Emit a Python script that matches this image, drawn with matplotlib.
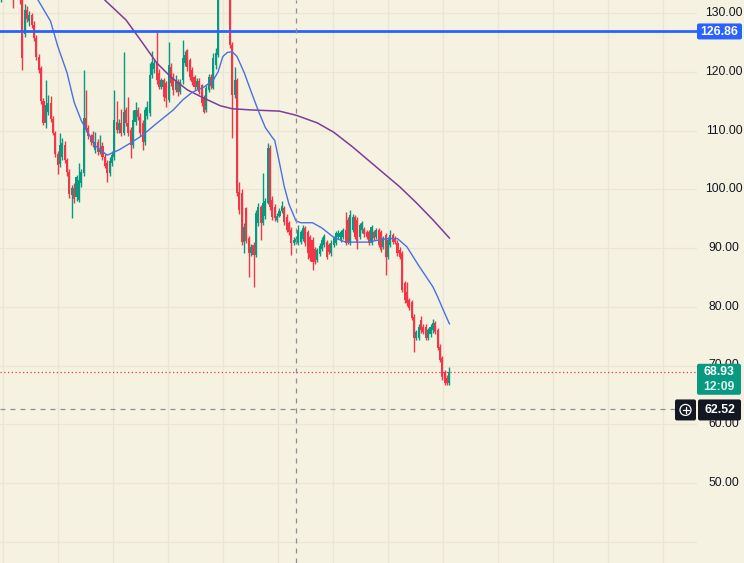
import matplotlib
matplotlib.use('Agg')
import matplotlib.pyplot as plt
import matplotlib.patches as mpatches
import numpy as np

# ---- data ----
opens = [
    133.0, 135.0, 133.8, 135.2, 133.4, 134.2, 132.8, 134.6, 133.2, 132.4,
    126.5, 130.5, 128.6, 129.6, 128.0, 125.7, 122.5, 120.6, 115.0, 111.3,
    113.1, 114.7, 112.0, 109.6, 106.0, 104.3, 105.5, 107.5, 105.0, 103.0,
    99.0, 100.2, 98.7, 98.2, 101.0, 102.8, 112.1, 110.4, 109.0, 109.2,
    106.7, 108.0, 106.3, 107.4, 105.5, 104.5, 102.8, 104.4, 105.5, 111.4,
    110.1, 111.3, 109.6, 113.5, 111.3, 110.1, 107.5, 111.4, 113.5, 112.3,
    111.3, 108.0, 112.5, 113.0, 119.4, 120.5, 121.7, 119.8, 117.4, 118.6,
    118.0, 115.2, 120.8, 119.1, 116.9, 118.1, 116.6, 118.6, 121.5, 123.7,
    122.0, 120.3, 119.1, 117.4, 118.5, 117.7, 115.7, 113.5, 116.9, 119.1,
    117.2, 121.1, 122.9, 133.5, 137.0, 134.0, 136.5, 135.0, 124.6, 116.0,
    118.6, 99.5, 99.4, 91.0, 96.8, 91.7, 89.1, 90.5, 88.8, 94.3,
    97.0, 94.3, 95.5, 97.7, 107.0, 98.2, 97.0, 94.8, 95.5, 96.3,
    96.8, 95.3, 94.3, 93.1, 90.9, 91.0, 90.9, 91.0, 91.5, 93.4,
    92.7, 91.9, 91.4, 89.8, 88.0, 89.0, 89.9, 90.5, 91.0, 90.5,
    89.1, 90.5, 90.9, 91.9, 91.4, 91.9, 93.0, 94.8, 90.9, 93.1,
    95.3, 94.8, 91.9, 93.0, 93.2, 92.7, 92.7, 90.9, 92.7, 91.9,
    93.0, 92.7, 90.1, 92.2, 88.5, 90.5, 92.2, 91.7, 90.9, 89.7,
    89.1, 84.0, 82.5, 81.1, 80.8, 78.3, 74.7, 74.7, 77.7, 76.6,
    76.6, 74.7, 75.3, 76.0, 77.2, 76.0, 73.2, 71.3, 68.9, 67.9,
    67.0,
]
highs = [
    136.0, 136.5, 135.8, 135.8, 134.8, 135.0, 135.2, 135.4, 134.0, 133.0,
    131.5, 131.2, 130.4, 130.0, 128.6, 126.2, 123.0, 121.0, 115.5, 118.6,
    116.0, 115.8, 112.4, 110.0, 106.5, 109.6, 108.8, 108.2, 105.4, 103.4,
    100.8, 101.0, 102.5, 104.5, 103.4, 120.3, 116.9, 111.0, 109.4, 110.0,
    109.7, 108.6, 109.2, 108.0, 106.0, 105.0, 105.5, 106.5, 116.9, 115.1,
    112.0, 113.7, 123.4, 114.0, 115.7, 110.6, 113.5, 114.9, 114.0, 113.0,
    111.8, 114.0, 115.0, 121.5, 123.5, 122.0, 127.1, 120.5, 119.0, 119.0,
    118.5, 125.0, 121.5, 119.8, 119.5, 118.8, 118.8, 125.4, 123.5, 123.9,
    122.4, 120.8, 119.5, 119.0, 119.0, 118.0, 116.0, 117.8, 119.6, 119.6,
    123.2, 124.0, 136.0, 138.0, 138.5, 137.5, 137.0, 136.0, 125.0, 120.8,
    119.0, 101.2, 100.0, 94.2, 97.0, 92.0, 90.6, 91.0, 96.5, 97.6,
    97.4, 102.8, 98.5, 107.9, 107.5, 98.8, 97.5, 96.0, 96.8, 98.0,
    97.2, 95.8, 94.6, 93.5, 91.8, 92.0, 94.0, 93.1, 94.0, 93.8,
    93.0, 92.2, 91.8, 90.2, 90.0, 90.8, 91.8, 92.4, 91.4, 90.9,
    91.3, 92.1, 92.9, 93.0, 93.1, 93.4, 96.1, 95.3, 96.4, 95.8,
    95.7, 95.2, 94.3, 94.6, 93.6, 93.1, 93.1, 94.0, 93.1, 93.4,
    93.4, 93.1, 92.1, 92.6, 91.8, 93.0, 92.6, 92.1, 91.3, 90.1,
    89.5, 84.4, 84.2, 81.5, 81.2, 78.7, 76.1, 77.0, 78.5, 77.0,
    77.0, 76.4, 77.0, 78.0, 77.6, 76.4, 73.6, 71.7, 69.3, 68.3,
    69.7,
]
lows = [
    131.8, 133.2, 133.0, 132.6, 132.8, 130.8, 132.4, 132.6, 131.6, 120.3,
    126.0, 128.4, 127.8, 127.5, 125.2, 122.0, 119.8, 114.5, 110.9, 110.5,
    112.6, 111.5, 109.2, 105.5, 102.6, 103.8, 105.0, 104.5, 102.3, 98.5,
    95.1, 97.6, 98.0, 97.8, 100.4, 102.3, 109.8, 108.6, 107.5, 107.2,
    106.2, 105.8, 106.0, 105.0, 103.6, 101.2, 102.3, 104.0, 105.0, 109.5,
    109.6, 109.0, 109.2, 110.8, 109.0, 105.3, 107.0, 111.0, 111.8, 109.0,
    106.6, 107.5, 112.0, 112.5, 119.0, 119.8, 118.0, 117.0, 117.0, 115.0,
    114.0, 114.8, 117.5, 116.0, 116.5, 115.8, 116.2, 118.0, 121.0, 120.2,
    118.6, 117.8, 116.9, 117.0, 116.2, 114.2, 113.0, 113.2, 116.5, 117.0,
    117.0, 120.5, 122.5, 132.5, 133.0, 133.5, 133.8, 124.0, 108.7, 115.5,
    98.8, 95.8, 90.5, 89.1, 90.8, 85.1, 88.6, 83.4, 88.5, 93.8,
    91.4, 94.0, 95.0, 97.5, 96.5, 94.8, 94.6, 94.5, 95.2, 96.0,
    94.0, 92.8, 92.2, 88.8, 90.5, 90.6, 90.5, 90.6, 91.2, 90.4,
    88.2, 87.8, 86.3, 87.2, 87.6, 88.6, 89.5, 90.2, 88.1, 88.9,
    88.7, 90.1, 90.5, 91.5, 91.0, 91.5, 90.5, 90.6, 90.5, 92.8,
    91.5, 89.9, 91.5, 92.6, 91.9, 91.5, 90.5, 90.5, 91.3, 91.5,
    90.1, 89.3, 89.8, 85.4, 88.1, 90.1, 90.6, 90.6, 88.7, 88.1,
    82.5, 80.7, 80.2, 79.4, 77.7, 72.3, 74.3, 74.3, 75.6, 75.3,
    74.3, 74.3, 74.9, 75.6, 75.3, 72.6, 70.6, 67.6, 66.6, 66.6,
    66.6,
]
closes = [
    135.0, 133.8, 135.2, 133.4, 134.2, 132.8, 134.6, 133.2, 132.4, 122.3,
    130.5, 129.0, 129.6, 128.0, 125.7, 122.5, 120.3, 115.0, 111.3, 114.4,
    114.7, 112.0, 109.6, 106.0, 104.1, 107.5, 107.9, 105.0, 103.0, 99.2,
    100.2, 98.4, 102.1, 101.6, 102.9, 112.1, 110.1, 109.0, 108.0, 107.9,
    108.0, 106.3, 106.9, 105.5, 104.0, 102.8, 104.8, 105.8, 111.8, 110.1,
    111.3, 109.6, 113.2, 111.3, 109.6, 107.5, 111.8, 113.5, 112.3, 109.6,
    108.0, 113.5, 114.0, 119.5, 121.7, 121.5, 118.6, 117.4, 118.6, 115.7,
    115.5, 121.2, 118.1, 116.9, 118.6, 116.6, 118.3, 122.3, 122.8, 120.8,
    119.1, 118.3, 117.4, 118.5, 116.6, 114.7, 113.1, 117.2, 119.1, 117.6,
    122.3, 123.2, 133.5, 137.0, 134.0, 136.5, 135.0, 124.6, 116.0, 118.6,
    99.4, 96.5, 91.0, 93.6, 91.2, 89.1, 90.2, 88.8, 96.0, 97.0,
    94.3, 97.7, 98.0, 107.0, 97.0, 95.3, 95.1, 95.5, 96.3, 97.2,
    94.4, 93.1, 92.7, 90.9, 91.4, 91.6, 93.1, 92.7, 93.4, 90.8,
    89.1, 88.3, 87.6, 87.6, 89.7, 90.4, 91.4, 92.0, 88.5, 89.3,
    90.9, 91.7, 92.5, 92.5, 92.7, 93.0, 90.9, 91.0, 95.6, 95.3,
    91.9, 90.9, 93.9, 94.2, 92.3, 91.9, 90.9, 93.6, 91.7, 93.0,
    90.5, 89.7, 91.7, 88.5, 91.4, 92.2, 91.0, 91.0, 89.1, 88.5,
    82.9, 81.1, 80.6, 79.8, 78.1, 74.7, 75.7, 76.6, 76.0, 75.7,
    74.7, 76.0, 76.6, 77.2, 75.7, 73.0, 71.0, 68.0, 67.0, 67.0,
    68.93,
]

# moving averages, sampled at candle indices
ma_fast_idx = [12, 16, 21, 24, 28, 31, 34, 40, 45, 50, 55, 60, 65, 73, 77, 81,
               86, 90, 92, 94, 96, 98, 100, 103, 106, 109, 112, 115, 116, 118,
               120, 122, 125, 127, 132, 136, 141, 146, 155, 164, 168, 172, 177,
               183, 185, 188, 190]
ma_fast_val = [134.5, 132.0, 128.6, 124.4, 119.8, 114.8, 111.7, 107.4, 105.8,
               106.7, 107.9, 109.2, 110.9, 113.5, 115.2, 116.5, 117.4, 118.6,
               120.0, 122.6, 123.3, 123.4, 122.6, 119.9, 116.6, 113.4, 110.5,
               108.8, 108.3, 104.5, 100.5, 97.5, 94.6, 94.3, 94.3, 93.4, 91.8,
               91.0, 91.0, 91.6, 91.6, 90.2, 87.0, 83.4, 81.7, 78.9, 77.1]
ma_slow_idx = [40, 44, 53, 60, 66, 72, 79, 86, 93, 98, 106, 118, 125, 134, 141,
               149, 159, 169, 176, 183, 190]
ma_slow_val = [134.3, 132.2, 128.8, 124.9, 121.5, 119.1, 116.9, 115.5, 114.2,
               113.7, 113.5, 113.3, 112.6, 111.3, 109.7, 107.2, 103.8, 100.4,
               97.7, 94.8, 91.7]

level_price = 126.86
last_price = 68.93
countdown = '12:09'
cross_price = 62.52
price_ticks = [50, 60, 70, 80, 90, 100, 110, 120, 130]
grid_prices = [40, 50, 60, 70, 80, 90, 100, 110, 120, 130]

# ---- style ----
BG = '#f6f2e2'
GRID = '#ebe6d4'
UP = '#089981'
DOWN = '#f23645'
BLUE_LVL = '#2962ff'
MA_FAST = '#4a6fe3'
MA_SLOW = '#7d3c98'
TXT = '#131722'
FONT = 'Liberation Sans'

W, H = 744, 563
PLOT_W = 697
STEP = 2.36          # px per candle
PX_PER_UNIT = 5.875  # px per price unit
Y130 = 13            # pixel row of 130.00


def ypx(p):
    return Y130 + (130 - p) * PX_PER_UNIT


def xidx(px):
    return (px - 1) / STEP


fig = plt.figure(figsize=(W / 100, H / 100), dpi=100)
fig.patch.set_facecolor(BG)

ax = fig.add_axes([0, 0, PLOT_W / W, 1])
ax.set_facecolor(BG)
ax.set_xlim(xidx(0), xidx(PLOT_W))
ax.set_ylim(130 - (H - Y130) / PX_PER_UNIT, 130 + Y130 / PX_PER_UNIT)
ax.axis('off')

# grid
for p in grid_prices:
    ax.axhline(p, color=GRID, lw=0.9, zorder=0)
for gx in range(3, PLOT_W, 55):
    ax.axvline(xidx(gx), color=GRID, lw=0.9, zorder=0)

# candles
o = np.array(opens)
h = np.array(highs)
l = np.array(lows)
c = np.array(closes)
idx = np.arange(len(o))
cols = np.where(c >= o, UP, DOWN)
ax.vlines(idx, l, h, colors=cols, lw=1.0, zorder=2)
ax.bar(idx, np.maximum(np.abs(c - o), 0.18), bottom=np.minimum(o, c),
       width=0.88, color=cols, linewidth=0, zorder=2)

# moving averages
ax.plot(ma_slow_idx, ma_slow_val, color=MA_SLOW, lw=1.1, zorder=3)
ax.plot(ma_fast_idx, ma_fast_val, color=MA_FAST, lw=1.0, zorder=3)

# horizontal level + price line + crosshair
ax.axhline(level_price, color=BLUE_LVL, lw=2.0, zorder=4)
ax.axhline(last_price, color=DOWN, lw=0.9, ls=(0, (1, 2)), zorder=4)
ax.axvline(xidx(296), color='#8d8f96', lw=0.9, ls=(0, (4, 4)), zorder=5)
ax.plot([xidx(0), xidx(675)], [cross_price, cross_price], color='#8d8f96',
        lw=0.9, ls=(0, (4, 4)), zorder=5)

# ---- price scale overlay (pixel coords) ----
ov = fig.add_axes([0, 0, 1, 1])
ov.set_xlim(0, W)
ov.set_ylim(H, 0)
ov.axis('off')
ov.patch.set_alpha(0)

for p in price_ticks:
    ov.text(724, ypx(p), f'{p:.2f}', ha='center', va='center', fontsize=8.8,
            family=FONT, color=TXT, zorder=1)


def label_box(x0, y0, w, hgt, fc):
    ov.add_patch(mpatches.FancyBboxPatch((x0, y0), w, hgt,
                 boxstyle='round,pad=0,rounding_size=2', fc=fc, ec='none',
                 zorder=3))


# level label
label_box(697, ypx(level_price) - 8, 45, 16, BLUE_LVL)
ov.text(719.5, ypx(level_price) + 0.5, f'{level_price:.2f}', ha='center',
        va='center', fontsize=8.8, family=FONT, fontweight='bold',
        color='white', zorder=4)

# last price + countdown
yl = ypx(last_price)
label_box(697, yl - 8, 44, 31, UP)
ov.text(719, yl + 0.5, f'{last_price:.2f}', ha='center', va='center',
        fontsize=8.8, family=FONT, fontweight='bold', color='white', zorder=4)
ov.text(719, yl + 15, countdown, ha='center', va='center', fontsize=8.8,
        family=FONT, fontweight='bold', color='#dff3ee', zorder=4)

# crosshair label
yc = ypx(cross_price)
label_box(675, yc - 10, 21, 21, TXT)
label_box(698, yc - 10, 43, 21, TXT)
ov.add_patch(mpatches.Circle((685.5, yc + 0.5), 5.5, fc='none', ec='white',
                             lw=0.9, zorder=4))
ov.plot([682.5, 688.5], [yc + 0.5, yc + 0.5], color='white', lw=0.9, zorder=4)
ov.plot([685.5, 685.5], [yc - 2.5, yc + 3.5], color='white', lw=0.9, zorder=4)
ov.text(719.5, yc + 0.5, f'{cross_price:.2f}', ha='center', va='center',
        fontsize=8.8, family=FONT, fontweight='bold', color='white', zorder=4)

fig.savefig('out.png', dpi=100, facecolor=BG)
